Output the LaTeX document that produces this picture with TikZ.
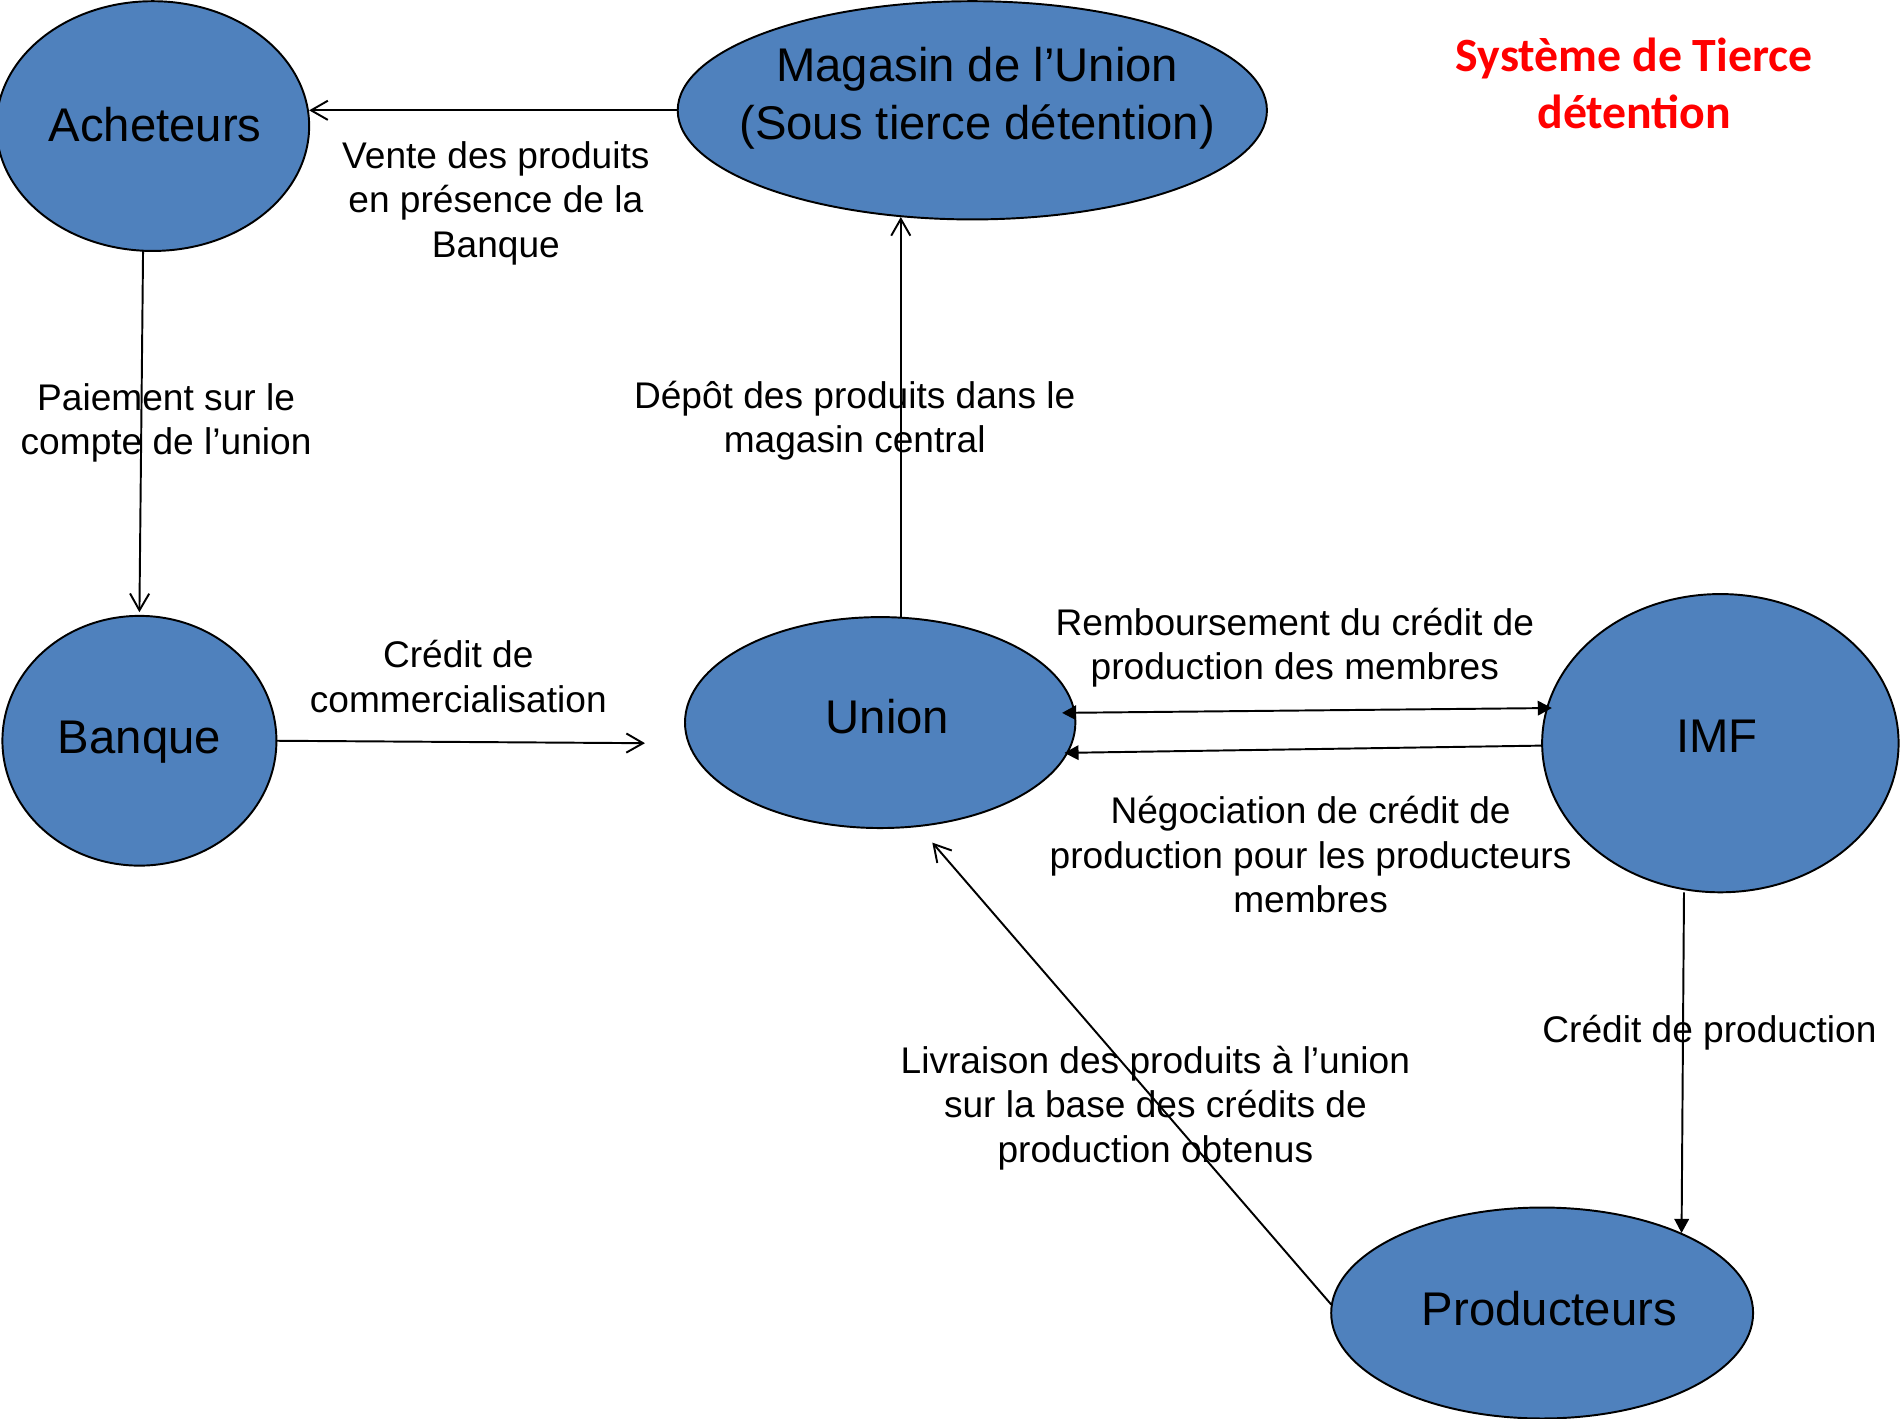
\documentclass[tikz,border=0pt]{standalone}
\usepackage{fontspec}
\setmainfont{Liberation Sans}
\newfontfamily\titlefont{Carlito}
\usetikzlibrary{shapes.geometric,arrows.meta,calc}
\definecolor{nodeblue}{HTML}{4F81BD}
\definecolor{titlered}{HTML}{FF0000}
\begin{document}
\begin{tikzpicture}[x=0.5pt,y=-0.5pt,
  ell/.style={ellipse,draw=black,line width=0.8pt,fill=nodeblue,inner sep=0pt,outer sep=0pt},
  big/.style={font=\fontsize{19.5}{24}\selectfont,align=center,inner sep=0pt},
  lbl/.style={font=\fontsize{15.3}{18.3}\selectfont,align=center,inner sep=0pt},
  openarrow/.style={-{Straight Barb[length=6.9pt,width=7.9pt,line width=0.8pt]},line width=0.8pt},
  fillarrow/.style={-{Triangle[length=5.8pt,width=6pt]},line width=0.8pt},
  bothfill/.style={{Triangle[length=5.8pt,width=6pt]}-{Triangle[length=5.8pt,width=6pt]},line width=0.8pt}]
\useasboundingbox (0,0) rectangle (1568,1170);

% ellipses
\node[ell,minimum width=129pt,minimum height=103pt] (acheteurs) at (126,104) {};
\node[ell,minimum width=243pt,minimum height=90pt] (magasin) at (802,91) {};
\node[ell,minimum width=113pt,minimum height=103pt] (banque) at (115,611) {};
\node[ell,minimum width=161pt,minimum height=87pt] (union) at (726,596) {};
\node[ell,minimum width=147pt,minimum height=123pt] (imf) at (1419,613) {};
\node[ell,minimum width=174pt,minimum height=87pt] (producteurs) at (1272,1083) {};

% node texts
\node[big] (acheteurstxt) at (128,103) {Acheteurs};
\node[big] (magasintxt) at (806,81) {Magasin de l’Union\\(Sous tierce détention)};
\node[big] (banquetxt) at (115,612) {Banque};
\node[big] (uniontxt) at (732,591) {Union};
\node[big] (imftxt) at (1416,607) {IMF};
\node[big] (producteurstxt) at (1278,1079) {Producteurs};

% connectors
\draw[openarrow] (magasin.west) -- ($(acheteurs.center)+(129,-13)$);
\draw[openarrow] ($(acheteurs.center)+(-8,103)$) -- ($(banque.center)+(0,-106)$);
\coordinate (credend) at ($(union.center)+(-194,17)$);
\draw[openarrow] (banque.east) -- (credend);
\draw[openarrow] ($(union.center)+(17,-87)$) -- ($(magasin.center)+(-59,88)$);
\draw[bothfill] ($(union.center)+(150,-8)$) -- ($(imf.center)+(-139,-29)$);
\draw[fillarrow] ($(imf.center)+(-147,2)$) -- ($(union.center)+(152,25)$);
\draw[fillarrow] ($(imf.center)+(-30,123)$) -- ($(producteurs.center)+(115,-66)$);
\draw[openarrow] ($(producteurs.center)+(-174,-7)$) -- ($(union.center)+(43,99)$);

% labels
\node[lbl] (l1) at (409,167.5) {Vente des produits\\en présence de la\\Banque};
\node[lbl] (l2) at (137,349) {Paiement sur le\\compte de l’union};
\node[lbl] (l3) at (705,347) {Dépôt des produits dans le\\magasin central};
\node[lbl] (l4) at (378,558) {Crédit de\\commercialisation};
\node[lbl] (l5) at (1068,534) {Remboursement du crédit de\\production des membres};
\node[lbl] (l6) at (1081,705) {Négociation de crédit de\\production pour les producteurs\\membres};
\node[lbl] (l7) at (1410,852) {Crédit de production};
\node[lbl] (l8) at (953,914) {Livraison des produits à l’union\\sur la base des crédits de\\production obtenus};

% title
\node[font=\titlefont\bfseries\fontsize{19.7}{23.5}\selectfont,text=titlered,align=center,inner sep=0pt] (title) at (1348,69) {Système de Tierce\\détention};
\end{tikzpicture}
\end{document}
